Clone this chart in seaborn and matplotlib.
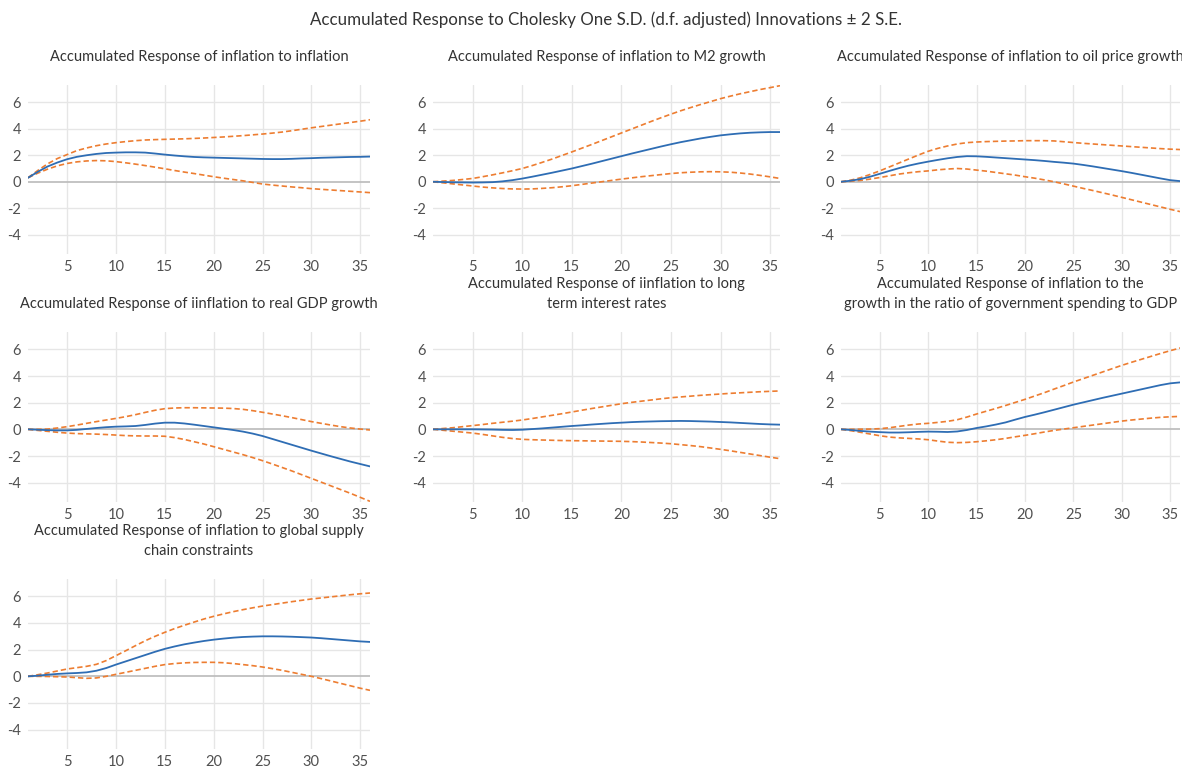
import numpy as np
import pandas as pd
import matplotlib
matplotlib.use("Agg")
import matplotlib.pyplot as plt
import seaborn as sns

# Forecast horizon (periods)
periods = list(range(1, 37))

# Accumulated response of inflation to inflation
resp_inf = [0.30, 0.75, 1.15, 1.45, 1.70, 1.88, 2.00, 2.10, 2.17, 2.20, 2.22, 2.22, 2.20, 2.13, 2.05, 1.98, 1.92, 1.87,
            1.84, 1.82, 1.80, 1.78, 1.76, 1.74, 1.72, 1.71, 1.71, 1.73, 1.76, 1.78, 1.81, 1.83, 1.85, 1.87, 1.88, 1.90]
hi_inf = [0.30, 0.85, 1.35, 1.75, 2.05, 2.35, 2.55, 2.72, 2.85, 2.95, 3.03, 3.10, 3.15, 3.18, 3.20, 3.22, 3.24, 3.27,
          3.30, 3.34, 3.38, 3.43, 3.48, 3.54, 3.60, 3.67, 3.75, 3.85, 3.96, 4.07, 4.17, 4.27, 4.37, 4.47, 4.57, 4.68]
lo_inf = [0.30, 0.65, 0.95, 1.20, 1.38, 1.50, 1.57, 1.60, 1.58, 1.52, 1.43, 1.33, 1.22, 1.10, 0.98, 0.85, 0.73, 0.62,
          0.50, 0.38, 0.27, 0.17, 0.07, -0.05, -0.17, -0.25, -0.32, -0.39, -0.45, -0.52, -0.57, -0.62, -0.67, -0.72, -0.77, -0.82]

# Accumulated response of inflation to M2 growth
resp_m2 = [0.00, -0.02, -0.04, -0.05, -0.06, -0.05, -0.03, 0.03, 0.12, 0.24, 0.38, 0.53, 0.68, 0.84, 1.00, 1.18, 1.36, 1.55,
           1.74, 1.93, 2.12, 2.30, 2.48, 2.66, 2.83, 2.99, 3.13, 3.27, 3.39, 3.50, 3.58, 3.65, 3.70, 3.73, 3.75, 3.75]
hi_m2 = [0.00, 0.05, 0.10, 0.17, 0.25, 0.38, 0.52, 0.67, 0.83, 1.00, 1.22, 1.46, 1.71, 1.98, 2.25, 2.53, 2.81, 3.10,
         3.39, 3.68, 3.97, 4.26, 4.55, 4.83, 5.10, 5.36, 5.60, 5.83, 6.05, 6.27, 6.46, 6.64, 6.80, 6.96, 7.10, 7.25]
lo_m2 = [0.00, -0.08, -0.16, -0.24, -0.32, -0.40, -0.46, -0.51, -0.54, -0.55, -0.54, -0.50, -0.45, -0.38, -0.30, -0.20, -0.10, 0.00,
         0.10, 0.20, 0.29, 0.38, 0.46, 0.54, 0.62, 0.68, 0.72, 0.75, 0.76, 0.75, 0.72, 0.66, 0.58, 0.48, 0.37, 0.25]

# Accumulated response of inflation to oil price growth
resp_oil = [0.00, 0.08, 0.20, 0.38, 0.60, 0.82, 1.03, 1.22, 1.38, 1.52, 1.65, 1.77, 1.87, 1.93, 1.92, 1.88, 1.83, 1.78,
            1.73, 1.68, 1.63, 1.57, 1.50, 1.44, 1.37, 1.27, 1.16, 1.04, 0.92, 0.80, 0.67, 0.53, 0.39, 0.25, 0.12, 0.05]
hi_oil = [0.00, 0.12, 0.30, 0.55, 0.82, 1.12, 1.42, 1.72, 2.02, 2.30, 2.52, 2.70, 2.85, 2.95, 3.00, 3.03, 3.05, 3.07,
          3.08, 3.10, 3.10, 3.10, 3.08, 3.02, 2.96, 2.90, 2.85, 2.80, 2.75, 2.70, 2.65, 2.60, 2.55, 2.50, 2.46, 2.43]
lo_oil = [0.00, 0.04, 0.10, 0.20, 0.32, 0.45, 0.58, 0.68, 0.76, 0.82, 0.90, 0.96, 1.00, 0.96, 0.88, 0.80, 0.70, 0.60,
          0.50, 0.38, 0.27, 0.14, 0.00, -0.16, -0.33, -0.50, -0.66, -0.83, -1.00, -1.18, -1.36, -1.54, -1.72, -1.90, -2.08, -2.25]

# Accumulated response of inflation to real GDP growth
resp_gdp = [0.00, -0.03, -0.06, -0.08, -0.08, -0.04, 0.03, 0.10, 0.16, 0.20, 0.22, 0.25, 0.33, 0.43, 0.50, 0.50, 0.44, 0.35,
            0.25, 0.15, 0.05, -0.05, -0.17, -0.32, -0.50, -0.72, -0.94, -1.16, -1.38, -1.60, -1.81, -2.02, -2.22, -2.42, -2.60, -2.78]
hi_gdp = [0.00, 0.00, 0.02, 0.10, 0.20, 0.32, 0.45, 0.58, 0.70, 0.82, 0.95, 1.10, 1.27, 1.43, 1.55, 1.60, 1.62, 1.62,
          1.61, 1.60, 1.59, 1.56, 1.50, 1.40, 1.28, 1.15, 1.02, 0.88, 0.73, 0.58, 0.45, 0.32, 0.20, 0.10, 0.02, -0.05]
lo_gdp = [0.00, -0.08, -0.15, -0.22, -0.28, -0.32, -0.34, -0.36, -0.39, -0.43, -0.47, -0.49, -0.50, -0.50, -0.52, -0.62, -0.76, -0.93,
          -1.10, -1.30, -1.50, -1.70, -1.90, -2.12, -2.35, -2.60, -2.86, -3.12, -3.40, -3.68, -3.96, -4.24, -4.52, -4.80, -5.10, -5.40]

# Accumulated response of inflation to long term interest rates
resp_rate = [0.00, 0.00, 0.00, 0.00, 0.00, -0.01, -0.02, -0.04, -0.05, -0.03, 0.02, 0.07, 0.13, 0.19, 0.25, 0.30, 0.36, 0.41,
             0.46, 0.50, 0.54, 0.57, 0.59, 0.61, 0.62, 0.63, 0.62, 0.60, 0.58, 0.55, 0.52, 0.48, 0.44, 0.40, 0.37, 0.35]
hi_rate = [0.00, 0.06, 0.12, 0.20, 0.28, 0.36, 0.45, 0.53, 0.61, 0.70, 0.81, 0.93, 1.05, 1.17, 1.30, 1.43, 1.56, 1.68,
           1.80, 1.92, 2.02, 2.11, 2.20, 2.29, 2.37, 2.43, 2.49, 2.55, 2.60, 2.65, 2.70, 2.74, 2.78, 2.82, 2.85, 2.88]
lo_rate = [0.00, -0.07, -0.14, -0.21, -0.28, -0.38, -0.49, -0.60, -0.69, -0.75, -0.78, -0.80, -0.82, -0.84, -0.85, -0.86, -0.87, -0.88,
           -0.89, -0.90, -0.92, -0.95, -0.99, -1.03, -1.08, -1.15, -1.22, -1.30, -1.40, -1.50, -1.61, -1.73, -1.85, -1.97, -2.09, -2.20]

# Accumulated response of inflation to government spending / GDP growth
resp_gov = [0.00, -0.05, -0.12, -0.17, -0.21, -0.24, -0.24, -0.22, -0.19, -0.17, -0.18, -0.20, -0.16, -0.05, 0.10, 0.22, 0.36, 0.52,
            0.73, 0.93, 1.10, 1.28, 1.47, 1.66, 1.85, 2.02, 2.19, 2.36, 2.52, 2.68, 2.84, 3.00, 3.16, 3.32, 3.45, 3.52]
hi_gov = [0.00, 0.00, 0.01, 0.02, 0.05, 0.12, 0.22, 0.32, 0.40, 0.45, 0.52, 0.60, 0.72, 0.92, 1.15, 1.36, 1.57, 1.79,
          2.02, 2.25, 2.50, 2.75, 3.02, 3.28, 3.55, 3.80, 4.05, 4.30, 4.55, 4.80, 5.03, 5.25, 5.47, 5.69, 5.90, 6.10]
lo_gov = [0.00, -0.10, -0.22, -0.35, -0.48, -0.58, -0.64, -0.68, -0.72, -0.78, -0.88, -0.97, -1.00, -0.98, -0.93, -0.86, -0.78, -0.68,
          -0.56, -0.45, -0.33, -0.20, -0.08, 0.02, 0.12, 0.22, 0.32, 0.42, 0.52, 0.62, 0.70, 0.77, 0.84, 0.90, 0.94, 0.97]

# Accumulated response of inflation to global supply chain constraints
resp_sc = [0.00, 0.05, 0.12, 0.18, 0.22, 0.25, 0.30, 0.42, 0.62, 0.88, 1.12, 1.36, 1.60, 1.84, 2.06, 2.24, 2.40, 2.53,
           2.65, 2.75, 2.83, 2.90, 2.95, 2.98, 3.00, 3.00, 2.99, 2.97, 2.94, 2.91, 2.86, 2.80, 2.74, 2.68, 2.62, 2.58]
hi_sc = [0.00, 0.12, 0.25, 0.40, 0.55, 0.65, 0.75, 0.90, 1.18, 1.55, 1.92, 2.30, 2.67, 3.00, 3.30, 3.58, 3.83, 4.07,
         4.30, 4.50, 4.68, 4.85, 5.00, 5.14, 5.27, 5.38, 5.49, 5.60, 5.70, 5.80, 5.88, 5.96, 6.04, 6.12, 6.19, 6.25]
lo_sc = [0.00, 0.00, -0.01, -0.03, -0.05, -0.10, -0.15, -0.12, 0.00, 0.15, 0.30, 0.45, 0.60, 0.75, 0.88, 0.96, 1.01, 1.04,
         1.05, 1.05, 1.02, 0.96, 0.88, 0.80, 0.70, 0.58, 0.45, 0.30, 0.15, 0.00, -0.17, -0.35, -0.53, -0.71, -0.89, -1.05]

panel_titles = [
    "Accumulated Response of inflation to inflation",
    "Accumulated Response of inflation to M2 growth",
    "Accumulated Response of inflation to oil price growth",
    "Accumulated Response of iinflation to real GDP growth",
    "Accumulated Response of iinflation to long\nterm interest rates",
    "Accumulated Response of inflation to the\ngrowth in the ratio of government spending to GDP",
    "Accumulated Response of inflation to global supply\nchain constraints",
]
main_title = "Accumulated Response to Cholesky One S.D. (d.f. adjusted) Innovations \u00b1 2 S.E."
y_ticks = [-4, -2, 0, 2, 4, 6]
x_ticks = [5, 10, 15, 20, 25, 30, 35]

panels = [
    (resp_inf, lo_inf, hi_inf),
    (resp_m2, lo_m2, hi_m2),
    (resp_oil, lo_oil, hi_oil),
    (resp_gdp, lo_gdp, hi_gdp),
    (resp_rate, lo_rate, hi_rate),
    (resp_gov, lo_gov, hi_gov),
    (resp_sc, lo_sc, hi_sc),
]

sns.set_theme(style="white")
plt.rcParams["font.family"] = ["Lato", "DejaVu Sans"]
plt.rcParams["axes.unicode_minus"] = False

W, H = 1182, 767
fig = plt.figure(figsize=(W / 100, H / 100), dpi=100)

# Pixel boxes (left, right) per column and (top, bottom) per row
cols = [(28, 370), (433, 780), (841, 1180)]
rows = [(85, 254), (332, 502), (579, 749)]

BLUE = "#2E6DB4"
ORANGE = "#ED7D31"
TXT = "#505050"

for i, (mid, lo, hi) in enumerate(panels):
    r, c = divmod(i, 3)
    l, rr = cols[c]
    t, b = rows[r]
    ax = fig.add_axes([l / W, 1 - b / H, (rr - l) / W, (b - t) / H])
    df = pd.DataFrame({"period": periods, "resp": mid, "lo": lo, "hi": hi})

    for y in y_ticks:
        if y != 0:
            ax.axhline(y, color="#E6E6E6", lw=1.0, zorder=0)
    for x in x_ticks:
        ax.axvline(x, color="#E6E6E6", lw=1.0, zorder=0)
    ax.axhline(0, color="#BFBFBF", lw=1.3, zorder=1)

    sns.lineplot(data=df, x="period", y="hi", ax=ax, color=ORANGE, lw=1.2,
                 linestyle=(0, (3.2, 1.8)), zorder=3)
    sns.lineplot(data=df, x="period", y="lo", ax=ax, color=ORANGE, lw=1.2,
                 linestyle=(0, (3.2, 1.8)), zorder=3)
    sns.lineplot(data=df, x="period", y="resp", ax=ax, color=BLUE, lw=1.3, zorder=4)

    ax.set_xlim(1, 36)
    ax.set_ylim(-5.45, 7.3)
    ax.set_xticks(x_ticks)
    ax.set_yticks(y_ticks)
    ax.set_xlabel("")
    ax.set_ylabel("")
    ax.tick_params(axis="both", length=0, labelsize=10.5, labelcolor=TXT)
    ax.tick_params(axis="x", pad=4)
    ax.tick_params(axis="y", pad=5)
    for s in ax.spines.values():
        s.set_visible(False)
    ax.grid(False)

    # Panel title centered over the plot area
    nlines = panel_titles[i].count("\n") + 1
    ty = t - 28 if nlines == 1 else t - 38
    fig.text((l + rr) / 2 / W, 1 - ty / H, panel_titles[i], ha="center", va="center",
             fontsize=10.5, color="#333333", linespacing=1.5)

fig.text(0.513, 1 - 20 / H, main_title, ha="center", va="center", fontsize=12.2, color="#333333")

fig.savefig("out.png", dpi=100)
